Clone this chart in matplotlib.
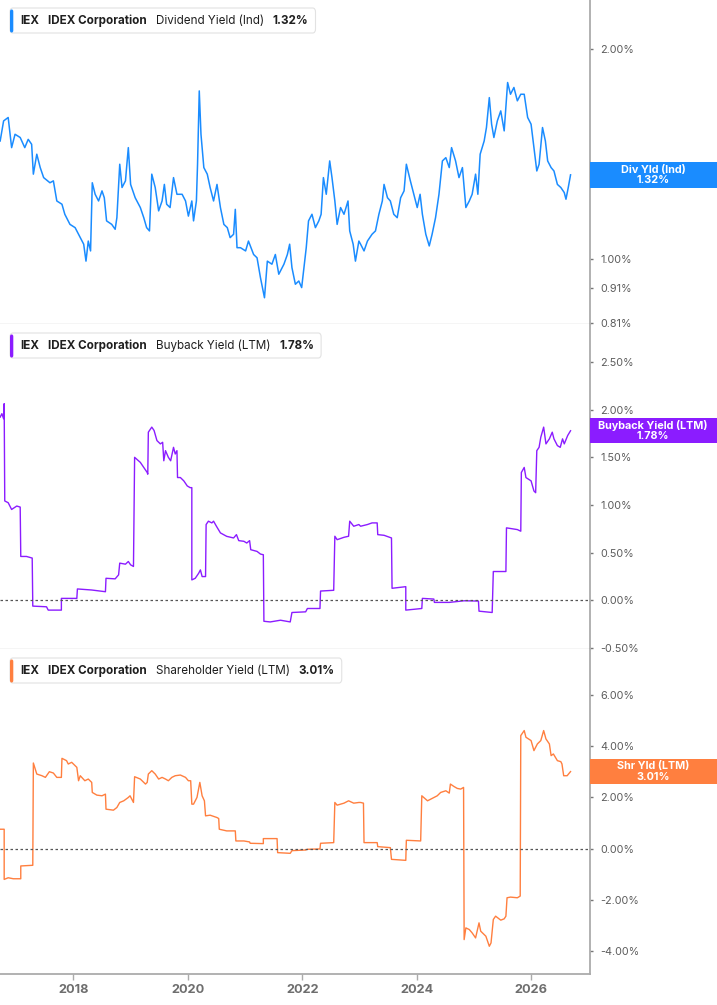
import matplotlib.pyplot as plt
from matplotlib.patches import Rectangle, FancyBboxPatch
from matplotlib.ticker import NullLocator

plt.rcParams['font.family'] = ['Inter', 'DejaVu Sans']

# ---- data (decimal years, values in %) ----
div_x = [2016.72, 2016.78, 2016.86, 2016.92, 2016.98, 2017.07, 2017.15, 2017.21, 2017.27, 2017.30,
         2017.36, 2017.42, 2017.48, 2017.59, 2017.65, 2017.71, 2017.80, 2017.85, 2017.94, 2018.03,
         2018.12, 2018.18, 2018.22, 2018.26, 2018.30, 2018.33, 2018.38, 2018.44, 2018.50, 2018.54,
         2018.58, 2018.67, 2018.73, 2018.76, 2018.81, 2018.85, 2018.91, 2018.96, 2019.00, 2019.08,
         2019.17, 2019.23, 2019.28, 2019.33, 2019.37, 2019.43, 2019.49, 2019.55, 2019.59, 2019.63,
         2019.69, 2019.75, 2019.81, 2019.90, 2019.96, 2020.01, 2020.07, 2020.10, 2020.15, 2020.17,
         2020.20, 2020.23, 2020.28, 2020.34, 2020.39, 2020.45, 2020.51, 2020.57, 2020.63, 2020.69,
         2020.74, 2020.80, 2020.83, 2020.86, 2020.92, 2021.01, 2021.06, 2021.15, 2021.21, 2021.27,
         2021.34, 2021.39, 2021.47, 2021.53, 2021.59, 2021.68, 2021.74, 2021.78, 2021.82, 2021.88,
         2021.94, 2021.99, 2022.03, 2022.07, 2022.11, 2022.17, 2022.23, 2022.29, 2022.33, 2022.37,
         2022.42, 2022.48, 2022.52, 2022.57, 2022.61, 2022.67, 2022.73, 2022.80, 2022.83, 2022.89,
         2022.93, 2022.99,
         2023.02, 2023.08, 2023.14, 2023.22, 2023.28, 2023.34, 2023.40, 2023.43, 2023.49, 2023.54,
         2023.60, 2023.66, 2023.72, 2023.78, 2023.82, 2023.89, 2023.95, 2024.01, 2024.06, 2024.10,
         2024.16, 2024.22, 2024.27, 2024.33, 2024.39, 2024.45, 2024.51, 2024.57, 2024.61, 2024.68,
         2024.74, 2024.80, 2024.86, 2024.92, 2024.97, 2025.03, 2025.07, 2025.11, 2025.18, 2025.22,
         2025.27, 2025.31, 2025.35, 2025.41, 2025.47, 2025.53, 2025.59, 2025.64, 2025.70, 2025.76,
         2025.82, 2025.88, 2025.94, 2026.00, 2026.05, 2026.10, 2026.14, 2026.20, 2026.25, 2026.29,
         2026.35, 2026.40, 2026.46, 2026.52, 2026.58, 2026.61, 2026.65, 2026.69]
div_y = [1.476, 1.577, 1.595, 1.444, 1.509, 1.493, 1.444, 1.484, 1.460, 1.323,
         1.413, 1.352, 1.308, 1.286, 1.294, 1.211, 1.198, 1.159, 1.121, 1.109,
         1.073, 1.050, 0.993, 1.061, 1.027, 1.286, 1.238, 1.211, 1.252, 1.224,
         1.134, 1.121, 1.103, 1.146, 1.367, 1.266, 1.294, 1.444, 1.279, 1.224,
         1.185, 1.146, 1.109, 1.097, 1.323, 1.266, 1.172, 1.211, 1.279, 1.198,
         1.185, 1.308, 1.238, 1.238, 1.211, 1.152, 1.211, 1.134, 1.211, 1.367,
         1.741, 1.509, 1.352, 1.323, 1.266, 1.211, 1.279, 1.185, 1.121, 1.109,
         1.073, 1.085, 1.178, 1.038, 1.038, 1.027, 1.061, 1.015, 1.004, 0.940,
         0.880, 0.993, 0.983, 1.015, 0.951, 0.983, 1.015, 1.050, 0.972, 0.920,
         0.930, 0.910, 0.972, 1.038, 1.134, 1.159, 1.109, 1.134, 1.159, 1.308,
         1.238, 1.382, 1.308, 1.211, 1.121, 1.185, 1.159, 1.211, 1.097, 1.050,
         0.993, 1.061,
         1.050, 1.027, 1.061, 1.085, 1.097, 1.159, 1.211, 1.279, 1.224, 1.211,
         1.159, 1.146, 1.224, 1.252, 1.367, 1.294, 1.238, 1.185, 1.238, 1.159,
         1.085, 1.044, 1.085, 1.146, 1.238, 1.382, 1.397, 1.352, 1.444, 1.382,
         1.308, 1.352, 1.185, 1.211, 1.238, 1.323, 1.238, 1.413, 1.476, 1.543,
         1.703, 1.560, 1.493, 1.577, 1.630, 1.526, 1.790, 1.722, 1.761, 1.685,
         1.722, 1.722, 1.595, 1.560, 1.444, 1.337, 1.367, 1.543, 1.476, 1.382,
         1.352, 1.337, 1.279, 1.266, 1.245, 1.218, 1.266, 1.320]

bb_x = [2016.72, 2016.75, 2016.78, 2016.79, 2016.80, 2016.86, 2016.92, 2017.01, 2017.07, 2017.08,
        2017.18, 2017.28, 2017.29, 2017.53, 2017.56, 2017.79, 2017.79, 2018.06, 2018.07, 2018.32,
        2018.56, 2018.57, 2018.73, 2018.79, 2018.81, 2018.91, 2018.96, 2019.00, 2019.05, 2019.07,
        2019.17, 2019.23, 2019.29, 2019.30, 2019.31, 2019.37, 2019.41, 2019.46, 2019.52, 2019.56,
        2019.58, 2019.61, 2019.66, 2019.70, 2019.75, 2019.78, 2019.81, 2019.82, 2019.87, 2019.93,
        2019.99, 2020.04, 2020.07, 2020.07, 2020.13, 2020.19, 2020.22, 2020.25, 2020.31, 2020.32,
        2020.36, 2020.42, 2020.45, 2020.50, 2020.57, 2020.68, 2020.80, 2020.85, 2020.89, 2020.98,
        2021.03, 2021.08, 2021.10, 2021.21, 2021.27, 2021.32, 2021.33, 2021.44, 2021.62, 2021.79,
        2021.82, 2022.06, 2022.09, 2022.31, 2022.32, 2022.55, 2022.57, 2022.61, 2022.73, 2022.81,
        2022.83, 2022.90, 2022.99,
        2023.02, 2023.14, 2023.22, 2023.31, 2023.32, 2023.43, 2023.56, 2023.57, 2023.81, 2023.81,
        2024.09, 2024.10, 2024.30, 2024.31, 2024.57, 2024.83, 2025.08, 2025.09, 2025.32, 2025.34,
        2025.56, 2025.57, 2025.76, 2025.82, 2025.83, 2025.88, 2025.91, 2026.00, 2026.05, 2026.08,
        2026.10, 2026.14, 2026.17, 2026.22, 2026.26, 2026.32, 2026.37, 2026.40, 2026.46, 2026.51,
        2026.55, 2026.58, 2026.64, 2026.69]
bb_y = [1.923, 1.959, 1.906, 2.064, 1.043, 1.025, 0.954, 0.990, 0.979, 0.461,
        0.461, 0.444, -0.060, -0.067, -0.102, -0.102, 0.021, 0.021, 0.120, 0.109,
        0.091, 0.232, 0.226, 0.268, 0.391, 0.380, 0.408, 0.373, 0.356, 1.501,
        1.448, 1.395, 1.342, 1.324, 1.765, 1.818, 1.783, 1.677, 1.642, 1.659,
        1.465, 1.571, 1.501, 1.465, 1.606, 1.536, 1.571, 1.289, 1.289, 1.254,
        1.201, 1.183, 1.183, 0.215, 0.232, 0.285, 0.320, 0.250, 0.250, 0.796,
        0.831, 0.813, 0.831, 0.778, 0.708, 0.672, 0.655, 0.690, 0.627, 0.620,
        0.602, 0.627, 0.532, 0.514, 0.486, 0.479, -0.219, -0.226, -0.208, -0.226,
        -0.127, -0.120, -0.085, -0.085, 0.098, 0.106, 0.673, 0.637, 0.662, 0.673,
        0.831, 0.778, 0.796,
        0.778, 0.796, 0.813, 0.813, 0.690, 0.683, 0.655, 0.127, 0.144, -0.102,
        -0.085, 0.021, 0.014, -0.021, -0.021, -0.004, -0.007, -0.113, -0.127, 0.303,
        0.303, 0.761, 0.743, 0.726, 1.342, 1.395, 1.289, 1.254, 1.148, 1.130,
        1.571, 1.606, 1.712, 1.818, 1.642, 1.695, 1.765, 1.695, 1.624, 1.606,
        1.695, 1.642, 1.730, 1.780]

shy_x = [2016.72, 2016.79, 2016.79, 2016.86, 2016.95, 2017.08, 2017.08, 2017.29, 2017.30, 2017.36,
         2017.45, 2017.51, 2017.58, 2017.65, 2017.71, 2017.79, 2017.80, 2017.88, 2017.91, 2017.97,
         2018.06, 2018.09, 2018.12, 2018.20, 2018.26, 2018.32, 2018.33, 2018.41, 2018.50, 2018.56,
         2018.57, 2018.70, 2018.76, 2018.81, 2018.88, 2018.96, 2018.99, 2019.05, 2019.07, 2019.17,
         2019.26, 2019.29, 2019.31, 2019.37, 2019.43, 2019.49, 2019.55, 2019.61, 2019.66, 2019.72,
         2019.78, 2019.87, 2019.96, 2020.01, 2020.05, 2020.07, 2020.10, 2020.16, 2020.21, 2020.25,
         2020.29, 2020.31, 2020.39, 2020.51, 2020.54, 2020.55, 2020.68, 2020.83, 2020.84, 2020.98,
         2021.08, 2021.09, 2021.32, 2021.32, 2021.56, 2021.57, 2021.79, 2021.82, 2022.06, 2022.09,
         2022.31, 2022.32, 2022.55, 2022.57, 2022.61, 2022.73, 2022.81, 2022.90, 2022.99,
         2023.02, 2023.07, 2023.08, 2023.31, 2023.32, 2023.54, 2023.56, 2023.81, 2023.82, 2024.07,
         2024.09, 2024.19, 2024.27, 2024.36, 2024.42, 2024.51, 2024.57, 2024.59, 2024.65, 2024.71,
         2024.77, 2024.82, 2024.83, 2024.86, 2024.92, 2024.97, 2025.03, 2025.09, 2025.12, 2025.21,
         2025.27, 2025.30, 2025.34, 2025.38, 2025.47, 2025.53, 2025.56, 2025.58, 2025.64, 2025.76,
         2025.81, 2025.82, 2025.88, 2025.91, 2026.00, 2026.05, 2026.11, 2026.17, 2026.22, 2026.26,
         2026.32, 2026.35, 2026.39, 2026.46, 2026.52, 2026.54, 2026.57, 2026.63, 2026.69]
shy_y = [0.757, 0.757, -1.204, -1.139, -1.178, -1.178, -0.678, -0.652, 3.345, 2.914,
         2.848, 2.783, 3.005, 2.953, 2.783, 2.783, 3.528, 3.437, 3.306, 3.372,
         3.175, 2.652, 2.848, 2.652, 2.718, 2.587, 2.195, 2.090, 2.064, 2.129,
         1.541, 1.502, 1.607, 1.803, 1.868, 1.999, 2.064, 1.803, 2.809, 2.718,
         2.522, 2.587, 2.914, 3.045, 2.914, 2.718, 2.783, 2.718, 2.652, 2.783,
         2.848, 2.875, 2.783, 2.652, 2.652, 1.737, 1.737, 1.999, 2.587, 2.064,
         1.868, 1.280, 1.306, 1.214, 1.175, 0.757, 0.692, 0.692, 0.299, 0.299,
         0.260, 0.208, 0.195, 0.391, 0.391, -0.158, -0.184, -0.080, -0.054, -0.027,
         -0.014, 0.208, 0.234, 1.803, 1.698, 1.776, 1.868, 1.776, 1.803,
         1.803, 1.776, 0.234, 0.234, 0.077, 0.038, -0.420, -0.459, 0.325, 0.299,
         2.064, 1.868, 1.959, 2.064, 2.195, 2.260, 2.169, 2.522, 2.430, 2.352,
         2.326, 2.391, -3.556, -3.098, -3.163, -3.294, -3.490, -2.901, -3.228, -3.424,
         -3.816, -3.685, -2.770, -2.640, -2.796, -2.744, -2.640, -1.921, -1.895, -1.921,
         -1.855, 4.417, 4.613, 4.352, 4.221, 3.829, 4.090, 4.221, 4.613, 4.286,
         4.090, 3.633, 3.698, 3.437, 3.398, 3.306, 2.848, 2.848, 3.010]

year_ticks = [2018, 2020, 2022, 2024, 2026]

W, H = 717, 1005
RIGHT = 590
fig = plt.figure(figsize=(W / 100, H / 100), dpi=100)

panels = [(0, 324), (324, 649), (649, 974)]
axes = [fig.add_axes([0, 1 - b / H, RIGHT / W, (b - t) / H]) for t, b in panels]

blue, purple, orange = '#1a8cff', '#8b1cff', '#ff7f3f'

for i, ax in enumerate(axes):
    ax.set_xlim(2016.717, 2027.03)
    ax.spines['left'].set_visible(False)
    ax.spines['top'].set_visible(False)
    ax.spines['right'].set_color('#ababab')
    ax.spines['right'].set_linewidth(1.3)
    if i < 2:
        ax.spines['bottom'].set_color('#cfcfcf')
        ax.spines['bottom'].set_linewidth(1.0)
        ax.set_xticks([])
    else:
        ax.spines['bottom'].set_color('#ababab')
        ax.spines['bottom'].set_linewidth(1.3)
        ax.set_xticks(year_ticks)
        ax.set_xticklabels([str(y) for y in year_ticks], fontweight='bold')
        ax.tick_params(axis='x', length=4, width=1, color='#ababab',
                       labelsize=9.2, labelcolor='#6e6e6e', pad=3.5)
    ax.yaxis.tick_right()
    ax.tick_params(axis='y', length=2.5, width=1, color='#777777',
                   labelsize=7.8, labelcolor='#5c5c5c', pad=5)

# panel 1: dividend yield (log scale)
ax1 = axes[0]
ax1.plot(div_x, div_y, color=blue, lw=1.1)
ax1.set_yscale('log')
ax1.set_ylim(0.807, 2.35)
ax1.set_yticks([0.81, 0.91, 1.0, 2.0])
ax1.set_yticklabels(['0.81%', '0.91%', '1.00%', '2.00%'])
ax1.yaxis.set_minor_locator(NullLocator())

# panel 2: buyback yield
ax2 = axes[1]
ax2.plot(bb_x, bb_y, color=purple, lw=1.0)
ax2.axhline(0, color='#555555', lw=0.9, ls=(0, (2, 2)))
ax2.set_ylim(-0.51, 2.90)
bb_ticks = [-0.5, 0.0, 0.5, 1.0, 1.5, 2.0, 2.5]
ax2.set_yticks(bb_ticks)
ax2.set_yticklabels([f'{v:.2f}%' for v in bb_ticks])

# panel 3: shareholder yield
ax3 = axes[2]
ax3.plot(shy_x, shy_y, color=orange, lw=1.0)
ax3.axhline(0, color='#555555', lw=0.9, ls=(0, (2, 2)))
ax3.set_ylim(-4.9, 7.8)
sh_ticks = [-4, -2, 0, 2, 4, 6]
ax3.set_yticks(sh_ticks)
ax3.set_yticklabels([f'{v:.2f}%' for v in sh_ticks])


def value_box(ax, val, label, color):
    yd = ax.transData.transform((2020, val))[1]
    fig.add_artist(Rectangle((RIGHT / W, (yd - 12.75) / H), (W - RIGHT) / W, 25.5 / H,
                             transform=fig.transFigure, facecolor=color, edgecolor='none', zorder=2))
    fig.text(653 / W, yd / H, label, ha='center', va='center', color='white',
             fontsize=7.8, fontweight='bold', linespacing=1.05, zorder=3)


value_box(ax1, div_y[-1], 'Div Yld (Ind)\n1.32%', blue)
value_box(ax2, bb_y[-1], 'Buyback Yield (LTM)\n1.78%', purple)
value_box(ax3, shy_y[-1], 'Shr Yld (LTM)\n3.01%', orange)


def legend_box(top, parts, color):
    r = fig.canvas.get_renderer()
    yc = top + 20.7
    x = 20
    for txt, bold in parts:
        t = fig.text(x / W, 1 - yc / H, txt, ha='left', va='center', fontsize=8.4,
                     fontweight='bold' if bold else 'normal', color='#1f1f1f', zorder=4)
        x += t.get_window_extent(r).width + 9
    x_end = x - 9 + 7
    fig.add_artist(FancyBboxPatch((10 / W, 1 - (top + 33) / H), (x_end - 10) / W, 25 / H,
                                  boxstyle='round,pad=0,rounding_size=0.004',
                                  transform=fig.transFigure, facecolor='white',
                                  edgecolor='#e2e2e2', lw=0.8, zorder=2))
    fig.add_artist(FancyBboxPatch((10 / W, 1 - (top + 32.5) / H), 3.3 / W, 23 / H,
                                  boxstyle='round,pad=0,rounding_size=0.002',
                                  transform=fig.transFigure, facecolor=color,
                                  edgecolor='none', zorder=3))


legend_box(0, [('IEX', True), ('IDEX Corporation', True), ('Dividend Yield (Ind)', False),
               ('1.32%', True)], blue)
legend_box(325, [('IEX', True), ('IDEX Corporation', True), ('Buyback Yield (LTM)', False),
                 ('1.78%', True)], purple)
legend_box(650, [('IEX', True), ('IDEX Corporation', True), ('Shareholder Yield (LTM)', False),
                 ('3.01%', True)], orange)

fig.savefig('out.png', dpi=100)
